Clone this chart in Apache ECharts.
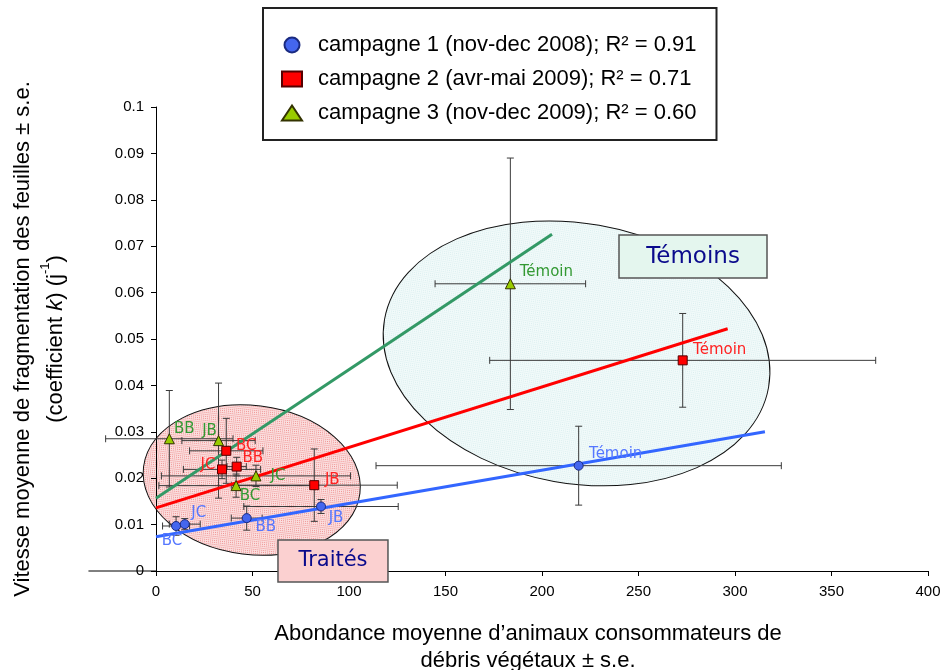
<!DOCTYPE html>
<html><head><meta charset="utf-8">
<script src="https://cdn.jsdelivr.net/npm/echarts@6/dist/echarts.min.js"></script>
<style>html,body{margin:0;padding:0;background:#fff;overflow:hidden}#c{width:943px;height:670px}</style>
</head><body><div id="c"></div>
<script>
// ---------- data ----------
const names1 = ['BC', 'JC', 'BB', 'JB', 'Témoin'];
const x1 = [10.4, 14.9, 47.0, 85.5, 219.0];
const y1 = [0.0097, 0.0101, 0.0114, 0.0139, 0.0227];
const ex1 = [7, 8, 8, 40, 105];
const ey1 = [0.0020, 0.0012, 0.0026, 0.0015, 0.0085];

const names2 = ['BC', 'JC', 'BB', 'JB', 'Témoin'];
const x2 = [36.4, 34.2, 41.8, 82.0, 272.9];
const y2 = [0.0259, 0.0219, 0.0225, 0.0185, 0.0454];
const ex2 = [19, 20, 5, 43, 100];
const ey2 = [0.0070, 0.0020, 0.0020, 0.0078, 0.0101];

const names3 = ['BB', 'JB', 'BC', 'JC', 'Témoin'];
const x3 = [6.9, 32.4, 41.5, 51.8, 183.6];
const y3 = [0.0285, 0.0281, 0.0184, 0.0205, 0.0619];
const ex3 = [33, 19, 40, 49, 39];
const ey3 = [0.0104, 0.0124, 0.0025, 0.0023, 0.0271];

// regression lines (end points)
const fitX1 = [0, 315.5], fitY1 = [0.0074, 0.0300];
const fitX2 = [0, 296.2], fitY2 = [0.0136, 0.0522];
const fitX3 = [0, 205.2], fitY3 = [0.0157, 0.0726];

const seriesNames = [
  'campagne 1 (nov-dec 2008); R² = 0.91',
  'campagne 2 (avr-mai 2009); R² = 0.71',
  'campagne 3 (nov-dec 2009); R² = 0.60'
];
const xTitle = 'Abondance moyenne d\u2019animaux consommateurs de\ndébris végétaux ± s.e.';
const yTitle = 'Vitesse moyenne de fragmentation des feuilles ± s.e.\n(coefficient {i|k}) (j{s|-1})';
const groupNames = ['Témoins', 'Traités'];
// group ellipse centres (data coords)
const groupCx = [217.9, 49.6];
const groupCy = [0.0469, 0.0196];
// group label box anchor (data coords, top-left)
const boxX = [239.9, 63.2];
const boxY = [0.0724, 0.0067];

// ---------- style ----------
const FONT = 'Liberation Sans, Arial, sans-serif';
const LFONT = 'DejaVu Sans, Verdana, sans-serif';
const colors = {
  m1: '#4466ee', m1b: '#1a2a80', l1: '#3366ff', t1: '#5577ff',
  m2: '#ff0000', m2b: '#550000', l2: '#ff0000', t2: '#ff2222',
  m3: '#99cc00', m3b: '#333300', l3: '#339966', t3: '#339933'
};
const off1 = [[-4, 15], [14, -11], [19, 9], [15, 12], [37, -12]];
const off2 = [[20, -5], [-14, -4], [16, -8], [18, -5], [37, -10]];
const off3 = [[15, -10], [-9, -10], [14, 10], [22, 0], [36, -12]];
const ellRx = [195, 109], ellRy = [130, 74.5], ellRot = [10, 7];
const boxW = [148, 110], boxH = [43, 42], boxFont = [23, 21];

function scatterData(xs, ys, ns, offs) {
  return xs.map((x, i) => ({ value: [x, ys[i]], name: ns[i], label: { offset: offs[i] } }));
}
function errData(xs, ys, exs, eys) {
  return xs.map((x, i) => [x, ys[i], exs[i], eys[i]]);
}
function errRender(params, api) {
  const x = api.value(0), y = api.value(1), ex = api.value(2), ey = api.value(3);
  const l = api.coord([x - ex, y]), r = api.coord([x + ex, y]);
  const t = api.coord([x, y + ey]), b = api.coord([x, y - ey]);
  const c = 3.5;
  const st = { stroke: '#3a3a3a', lineWidth: 1 };
  const ln = (x1, y1, x2, y2) => ({ type: 'line', shape: { x1, y1, x2, y2 }, style: st });
  return { type: 'group', children: [
    ln(l[0], l[1], r[0], r[1]), ln(l[0], l[1] - c, l[0], l[1] + c), ln(r[0], r[1] - c, r[0], r[1] + c),
    ln(t[0], t[1], b[0], b[1]), ln(t[0] - c, t[1], t[0] + c, t[1]), ln(b[0] - c, b[1], b[0] + c, b[1])
  ] };
}
function fit(xs, ys) { return xs.map((x, i) => [x, ys[i]]); }

function scatter(name, data, sym, fill, border, tcol) {
  return {
    name, type: 'scatter', data, symbol: sym, symbolSize: sym === 'triangle' ? 10 : 9, z: 5,
    itemStyle: { color: fill, borderColor: border, borderWidth: 1, opacity: 1 },
    label: { show: true, position: 'inside', formatter: p => p.name, color: tcol,
      fontFamily: LFONT, fontSize: 15 },
    emphasis: { disabled: true }
  };
}
function errSeries(data) {
  return { type: 'custom', renderItem: errRender, data, z: 3, silent: true, clip: false,
    encode: { x: 0, y: 1 } };
}
function lineSeries(data, color) {
  return { type: 'line', data, showSymbol: false, symbol: 'none', z: 4, silent: true,
    lineStyle: { color, width: 3 } };
}

function pattern(bg, dot, size) {
  const cv = document.createElement('canvas');
  cv.width = cv.height = size;
  const ctx = cv.getContext('2d');
  ctx.fillStyle = bg; ctx.fillRect(0, 0, size, size);
  ctx.fillStyle = dot; ctx.fillRect(0, 0, 1, 1);
  if (size > 2) { ctx.fillRect(0, 2, 1, 1); ctx.fillRect(2, 0, 1, 1); ctx.fillRect(2, 2, 1, 1); }
  return { image: cv, repeat: 'repeat' };
}

const chart = echarts.init(document.getElementById('c'), null, { renderer: 'canvas', width: 943, height: 670 });
const option = {
  backgroundColor: '#fff',
  animation: false,
  grid: { left: 156, width: 772, top: 107, height: 464, containLabel: false, outerBoundsMode: 'none' },
  legend: {
    orient: 'vertical', left: 263, top: 8,
    data: [
      { name: seriesNames[0], icon: 'circle' },
      { name: seriesNames[1], icon: 'rect' },
      { name: seriesNames[2], icon: 'triangle' }
    ],
    itemWidth: 20, itemHeight: 15, itemGap: 12,
    padding: [26, 20, 16, 18],
    borderColor: '#222', borderWidth: 2, backgroundColor: '#fff',
    textStyle: { fontFamily: FONT, fontSize: 22, color: '#000', lineHeight: 22, padding: [0, 0, 0, 11] },
    selectedMode: false
  },
  xAxis: {
    type: 'value', min: 0, max: 400, interval: 50,
    name: xTitle, nameLocation: 'middle', nameGap: 49,
    nameTextStyle: { fontFamily: FONT, fontSize: 22, color: '#000', lineHeight: 27, padding: [0, 28, 0, 0] },
    axisLine: { show: true, onZero: false, lineStyle: { color: '#000', width: 1 } },
    axisTick: { show: true, inside: false, length: 5, lineStyle: { color: '#000' } },
    axisLabel: { fontFamily: FONT, fontSize: 15, color: '#000', margin: 13 },
    splitLine: { show: false }
  },
  yAxis: {
    type: 'value', min: 0, max: 0.1, interval: 0.01,
    name: yTitle, nameLocation: 'middle', nameGap: 84,
    nameTextStyle: { fontFamily: FONT, fontSize: 22, color: '#000', lineHeight: 33,
      rich: { i: { fontFamily: FONT, fontSize: 22, fontStyle: 'italic', lineHeight: 33 },
              s: { fontFamily: FONT, fontSize: 13, lineHeight: 33, verticalAlign: 'top', padding: [0, 0, 10, 0] } } },
    axisLine: { show: true, onZero: false, lineStyle: { color: '#000', width: 1 } },
    axisTick: { show: true, inside: false, length: 5, lineStyle: { color: '#000' } },
    axisLabel: { fontFamily: FONT, fontSize: 15, color: '#000', margin: 12,
      formatter: v => v === 0 ? '0' : String(parseFloat(v.toFixed(3))) },
    splitLine: { show: false }
  },
  series: [
    errSeries(errData(x1, y1, ex1, ey1)),
    errSeries(errData(x2, y2, ex2, ey2)),
    errSeries(errData(x3, y3, ex3, ey3)),
    lineSeries(fit(fitX1, fitY1), colors.l1),
    lineSeries(fit(fitX2, fitY2), colors.l2),
    lineSeries(fit(fitX3, fitY3), colors.l3),
    scatter(seriesNames[0], scatterData(x1, y1, names1, off1), 'circle', colors.m1, colors.m1b, colors.t1),
    scatter(seriesNames[1], scatterData(x2, y2, names2, off2), 'rect', colors.m2, colors.m2b, colors.t2),
    scatter(seriesNames[2], scatterData(x3, y3, names3, off3), 'triangle', colors.m3, colors.m3b, colors.t3)
  ]
};
chart.setOption(option);

// annotations: group ellipses, group label boxes, left extension of x axis line
const toPx = (x, y) => chart.convertToPixel({ gridIndex: 0 }, [x, y]);
const ellFill = [pattern('#f2fafa', '#d8eeee', 4), pattern('#fbe0e0', '#ee8f8f', 2)];
const boxFill = ['#e4f6ee', '#fbd0d0'];
const els = [];
for (let i = 0; i < 2; i++) {
  const c = toPx(groupCx[i], groupCy[i]);
  els.push({ type: 'ellipse', x: c[0], y: c[1], rotation: -ellRot[i] * Math.PI / 180,
    shape: { cx: 0, cy: 0, rx: ellRx[i], ry: ellRy[i] }, z: -5,
    style: { fill: ellFill[i], stroke: '#111', lineWidth: 1 }, silent: true });
}
for (let i = 0; i < 2; i++) {
  const p = toPx(boxX[i], boxY[i]);
  els.push({ type: 'rect', x: p[0], y: p[1], shape: { x: 0, y: 0, width: boxW[i], height: boxH[i] }, z: 50,
    style: { fill: boxFill[i], stroke: '#555', lineWidth: 1.5 }, silent: true });
  els.push({ type: 'text', x: p[0] + boxW[i] / 2, y: p[1] + boxH[i] / 2, z: 51, silent: true,
    style: { text: groupNames[i], fill: '#0a0a8c', font: boxFont[i] + 'px ' + LFONT,
      textAlign: 'center', textVerticalAlign: 'middle' } });
}
const a0 = toPx(-35, 0), a1 = toPx(0, 0);
els.push({ type: 'line', shape: { x1: a0[0], y1: a0[1], x2: a1[0], y2: a1[1] }, z: 1,
  style: { stroke: '#000', lineWidth: 1 }, silent: true });
chart.setOption({ graphic: { elements: els } });
</script>
</body></html>
